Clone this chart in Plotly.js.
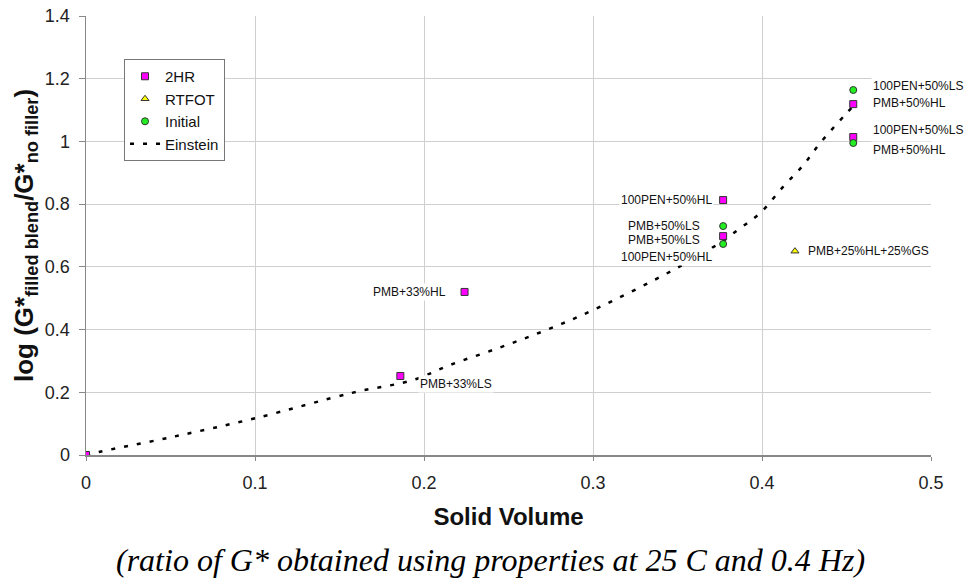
<!DOCTYPE html>
<html>
<head>
<meta charset="utf-8">
<script src="https://cdn.plot.ly/plotly-3.0.1.min.js"></script>
<style>body{margin:0;background:#fff}#chart{width:967px;height:581px}</style>
</head>
<body>
<div id="chart"></div>
<script>
// Data
const hr2X = [0, 0.186, 0.224, 0.377, 0.377, 0.454, 0.454];
const hr2Y = [0, 0.252, 0.52, 0.813, 0.698, 1.119, 1.014];
const rtfotX = [0.4195];
const rtfotY = [0.65];
const initialX = [0.377, 0.377, 0.454, 0.454];
const initialY = [0.73, 0.673, 1.164, 0.995];
const einsteinX = [0, 0.0083, 0.0497, 0.1, 0.158, 0.1935, 0.2154, 0.245, 0.2726, 0.300, 0.3475, 0.375, 0.387, 0.3988, 0.4126, 0.4245, 0.4343, 0.449, 0.454];
const einsteinY = [0, 0.0105, 0.056, 0.117, 0.199, 0.239, 0.287, 0.343, 0.399, 0.462, 0.590, 0.676, 0.723, 0.771, 0.856, 0.925, 0.994, 1.084, 1.112];
const labelText = ["PMB+33%HL", "PMB+33%LS", "100PEN+50%HL", "PMB+50%LS", "PMB+50%LS", "100PEN+50%HL", "100PEN+50%LS", "PMB+50%HL", "100PEN+50%LS", "PMB+50%HL", "PMB+25%HL+25%GS"];
const labelX = [0.2142, 0.1964, 0.3154, 0.3195, 0.3195, 0.3154, 0.4645, 0.4645, 0.4645, 0.4645, 0.426];
const labelY = [0.52, 0.225, 0.813, 0.73, 0.687, 0.633, 1.177, 1.124, 1.036, 0.973, 0.65];
const labelAnchor = ["right", "left", "left", "left", "left", "left", "left", "left", "left", "left", "left"];

const mk = (sym, col) => ({symbol: sym, size: 7, color: col, line: {color: '#333', width: 1}});
const traces = [
  {x: einsteinX, y: einsteinY, mode: 'lines', type: 'scatter', name: 'Einstein', legendrank: 4,
   line: {color: '#000', width: 2.5, dash: '4px,9px', shape: 'spline'}},
  {x: hr2X, y: hr2Y, mode: 'markers', type: 'scatter', name: '2HR', legendrank: 1, marker: mk('square', '#ff00ff')},
  {x: rtfotX, y: rtfotY, mode: 'markers', type: 'scatter', name: 'RTFOT', legendrank: 2, marker: mk('triangle-up', '#ffff00')},
  {x: initialX, y: initialY, mode: 'markers', type: 'scatter', name: 'Initial', legendrank: 3, marker: mk('circle', '#22ee22')}
];

const annotations = labelText.map((t, i) => ({
  x: labelX[i], y: labelY[i], xref: 'x', yref: 'y', text: t, showarrow: false,
  xanchor: labelAnchor[i], yanchor: 'middle', bgcolor: '#ffffff',
  font: {family: 'Arial, Liberation Sans, sans-serif', size: 12, color: '#111'}
}));
annotations.push({
  x: 0.479, y: -0.24, xref: 'paper', yref: 'paper', showarrow: false,
  text: '<i>(ratio of G* obtained using properties at 25 C and 0.4 Hz)</i>',
  font: {family: 'Liberation Serif, Times New Roman, serif', size: 32, color: '#000'},
  xanchor: 'center', yanchor: 'middle'
});

const layout = {
  width: 967, height: 581,
  margin: {l: 86, r: 36, t: 16, b: 126},
  paper_bgcolor: '#fff', plot_bgcolor: '#fff',
  font: {family: 'Arial, Liberation Sans, sans-serif', color: '#222'},
  showlegend: true,
  legend: {x: 0.045, y: 0.902, xanchor: 'left', yanchor: 'top', bgcolor: '#fff', bordercolor: '#777', borderwidth: 1,
           font: {size: 15, color: '#111'}, tracegroupgap: 0, itemwidth: 30},
  xaxis: {range: [0, 0.5], dtick: 0.1, showgrid: true, gridcolor: '#cfcfcf', gridwidth: 1,
          showline: true, linecolor: '#888', linewidth: 1.5, ticks: 'outside', ticklen: 4, tickcolor: '#888',
          ticklabelstandoff: 7,
          zeroline: false, tickfont: {size: 18, color: '#222'},
          title: {text: '<b>Solid Volume</b>', font: {size: 24, color: '#111'}, standoff: 16}},
  yaxis: {range: [0, 1.4], dtick: 0.2, showgrid: true, gridcolor: '#cfcfcf', gridwidth: 1,
          showline: true, linecolor: '#888', linewidth: 1.5, ticks: 'outside', ticklen: 6, tickcolor: '#888',
          ticklabelstandoff: 5,
          zeroline: false, tickfont: {size: 18, color: '#222'},
          title: {text: '<b>log (G*<sub>filled blend</sub>/G*<sub>no filler</sub>)</b>', font: {size: 26, color: '#111'}, standoff: 4}},
  annotations: annotations
};
Plotly.newPlot('chart', traces, layout, {staticPlot: true});
</script>
</body>
</html>
